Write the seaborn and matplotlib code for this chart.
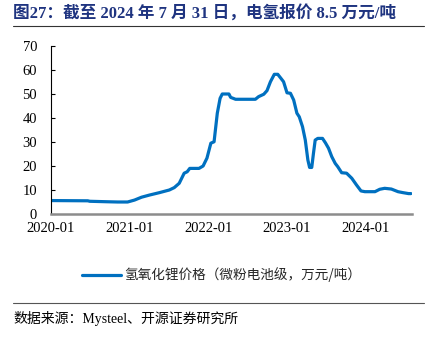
import matplotlib
matplotlib.use("Agg")
import matplotlib.pyplot as plt
import matplotlib.dates as mdates
from matplotlib.lines import Line2D
import pandas as pd
import seaborn as sns

dates = ["2020-01-01", "2020-06-20", "2020-06-29", "2020-09-20", "2020-11-06", "2020-12-22",
         "2021-01-23", "2021-02-25", "2021-04-03", "2021-05-19", "2021-07-04", "2021-07-27",
         "2021-08-19", "2021-09-11", "2021-09-25", "2021-10-07", "2021-11-19", "2021-12-08",
         "2021-12-26", "2022-01-13", "2022-01-28", "2022-02-12", "2022-02-25", "2022-03-07",
         "2022-04-07", "2022-04-15", "2022-05-08", "2022-08-08", "2022-08-23", "2022-09-16",
         "2022-10-01", "2022-10-17", "2022-11-04", "2022-11-20", "2022-12-05", "2022-12-17",
         "2023-01-02", "2023-01-18", "2023-02-02", "2023-02-17", "2023-02-28", "2023-03-15",
         "2023-03-28", "2023-04-09", "2023-04-17", "2023-04-27", "2023-05-05", "2023-05-13",
         "2023-05-25", "2023-06-16", "2023-06-30", "2023-07-14", "2023-07-29", "2023-08-14",
         "2023-08-26", "2023-09-13", "2023-10-06", "2023-10-30", "2023-11-21", "2023-12-12",
         "2023-12-30", "2024-02-15", "2024-03-08", "2024-03-31", "2024-05-01", "2024-06-01",
         "2024-06-24", "2024-07-20", "2024-07-31"]
prices = [5.6, 5.5, 5.3, 5.1, 5.0, 5.0,
          5.8, 7.0, 7.9, 8.9, 10.0, 11.0,
          12.8, 17.0, 17.6, 19.0, 19.0, 20.0,
          23.3, 29.5, 30.1, 42.0, 48.2, 50.0,
          50.0, 48.6, 47.8, 47.8, 48.9, 49.9,
          51.4, 55.1, 58.2, 58.2, 56.5, 55.1,
          50.5, 50.3, 47.5, 42.0, 40.5, 36.4,
          30.8, 22.5, 19.4, 19.4, 25.3, 30.8,
          31.5, 31.5, 29.6, 27.4, 23.9, 21.1,
          19.7, 17.2, 17.0, 14.9, 12.1, 9.6,
          9.3, 9.3, 10.3, 10.7, 10.4, 9.3,
          8.9, 8.5, 8.5]
series_name = "氢氧化锂价格（微粉电池级，万元/吨）"
x_ticks = ["2020-01-01", "2021-01-01", "2022-01-01", "2023-01-01", "2024-01-01"]
y_ticks = [0, 10, 20, 30, 40, 50, 60, 70]
title = "图27：截至 2024 年 7 月 31 日，电氢报价 8.5 万元/吨"
source = "数据来源：Mysteel、开源证券研究所"

df = pd.DataFrame({"date": pd.to_datetime(dates), "price": prices, "series": series_name})

sns.set_style("white")
plt.rcParams["font.family"] = ["Liberation Serif", "Noto Sans CJK SC", "DejaVu Sans"]

fig = plt.figure(figsize=(4.31, 3.39), dpi=100)
ax = fig.add_axes([51 / 431, 1 - 214 / 339, (412 - 51) / 431, (214 - 46) / 339])

sns.lineplot(data=df, x="date", y="price", hue="series", palette=["#0070C0"],
             linewidth=2.3, ax=ax, legend=False)

ax.set_xlim(pd.Timestamp("2020-01-01"), pd.Timestamp("2024-08-05"))
ax.set_ylim(0, 70)
ax.set_yticks(y_ticks)
ax.set_xticks(pd.to_datetime(x_ticks))
ax.xaxis.set_major_formatter(mdates.DateFormatter("%Y-%m"))
ax.set_xlabel("")
ax.set_ylabel("")
for s in ["top", "right"]:
    ax.spines[s].set_visible(False)
ax.spines["left"].set_color("#000000")
ax.spines["left"].set_linewidth(0.8)
ax.spines["bottom"].set_color("#8c8c8c")
ax.spines["bottom"].set_linewidth(1.8)
ax.tick_params(axis="x", direction="in", length=3, width=0.8, color="#000000",
               labelsize=10.5, pad=6, labelcolor="#000000")
ax.tick_params(axis="y", direction="in", length=3, width=0.8, color="#000000",
               labelsize=10.5, pad=10, labelcolor="#000000", left=True)
ax.grid(False)

# legend
handle = Line2D([0], [0], color="#0070C0", linewidth=2.3)
fig.legend([handle], [series_name], loc="center", bbox_to_anchor=(222 / 431, 1 - 275 / 339),
           frameon=False, handlelength=2.8, handletextpad=0.3,
           prop={"family": ["Noto Sans CJK SC"], "size": 9.8})

# title and rules
fig.text(13 / 431, 1 - 14 / 339, title, ha="left", va="center", fontsize=12,
         fontweight="bold", color="#1F3480",
         family=["Liberation Serif", "Noto Sans CJK SC"])
fig.add_artist(Line2D([13 / 431, 424 / 431], [1 - 26 / 339, 1 - 26 / 339],
                      color="#333333", linewidth=0.8))
fig.add_artist(Line2D([13 / 431, 424 / 431], [1 - 303 / 339, 1 - 303 / 339],
                      color="#555555", linewidth=0.8))
fig.text(13 / 431, 1 - 319 / 339, source, ha="left", va="center", fontsize=10,
         color="#000000", family=["Liberation Serif", "Noto Sans CJK SC"])

fig.savefig("out.png", dpi=100)
